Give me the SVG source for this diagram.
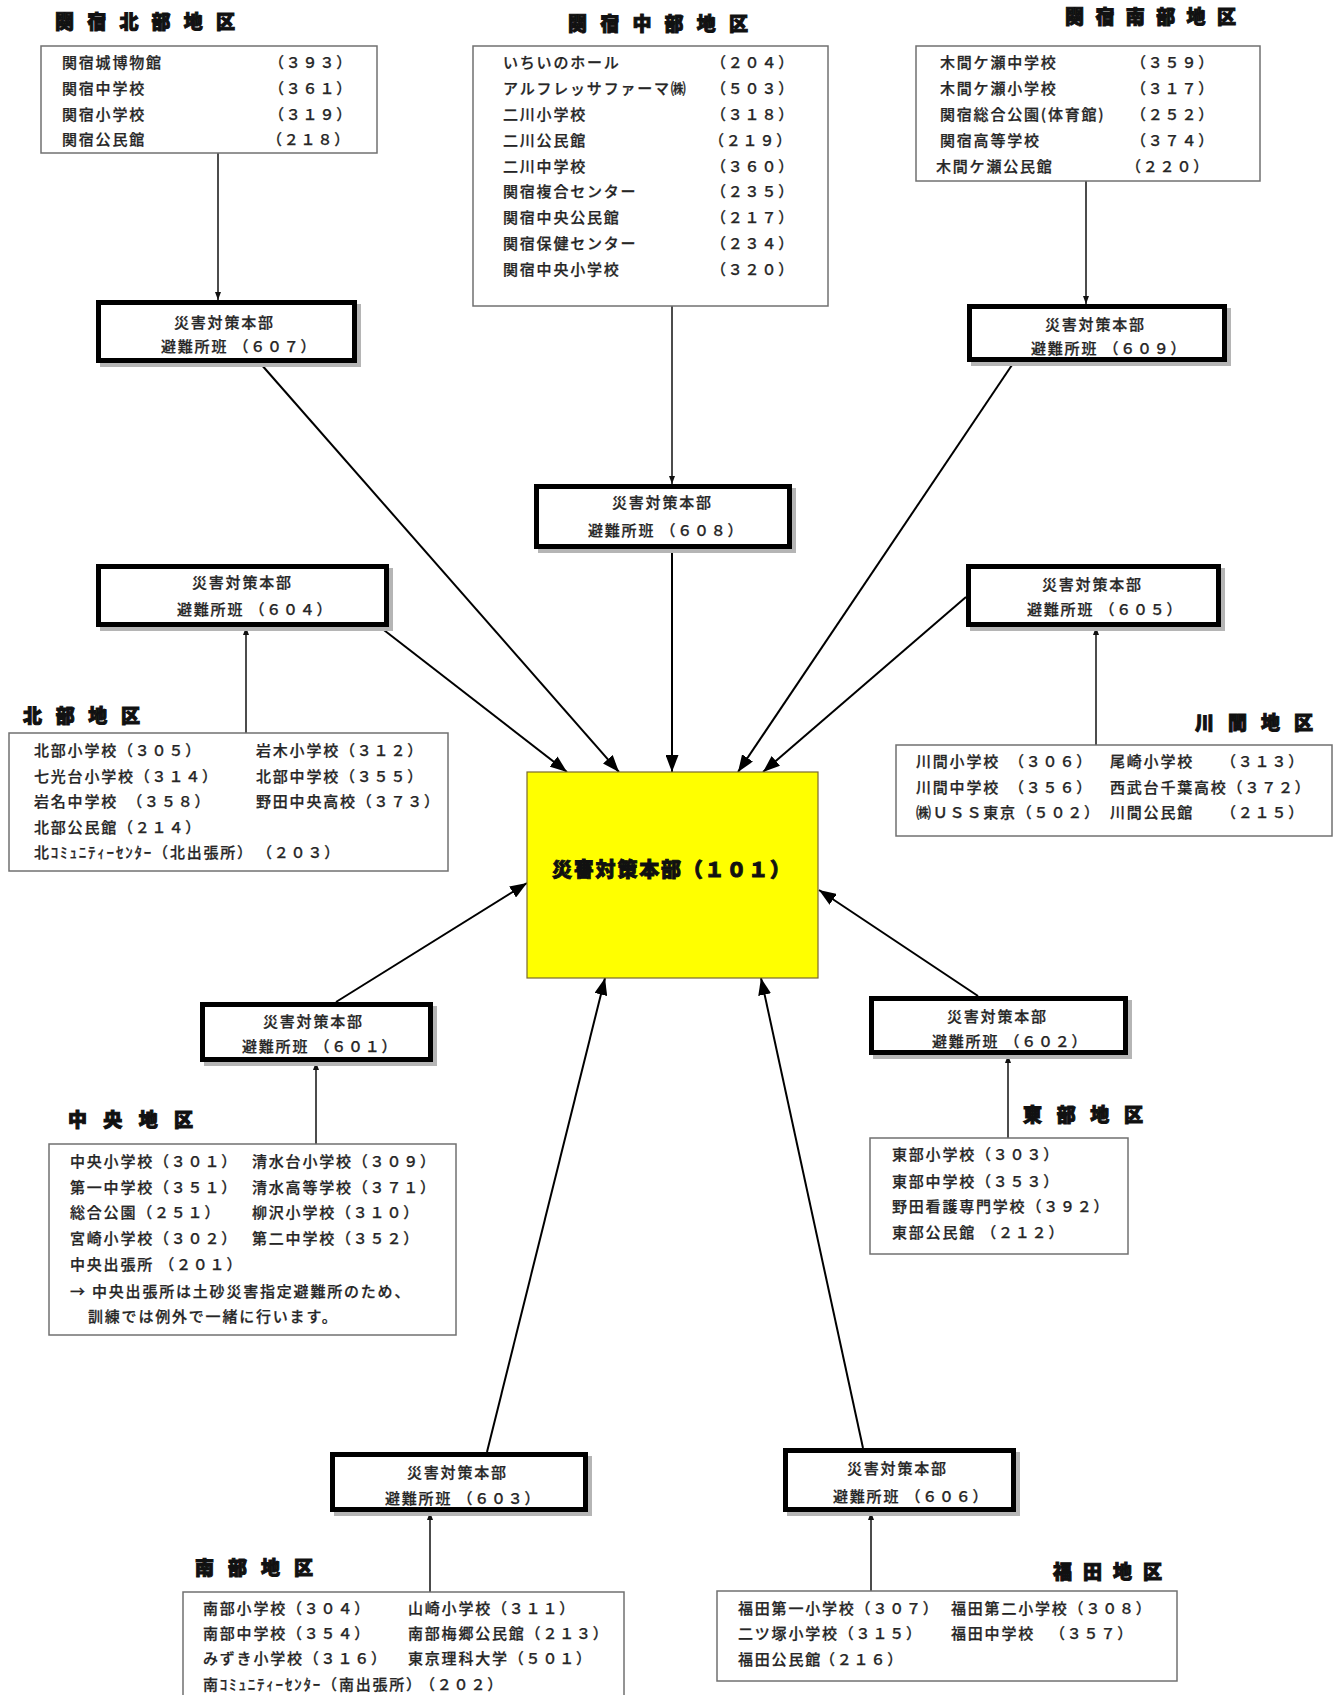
<svg xmlns="http://www.w3.org/2000/svg" width="1337" height="1695" viewBox="0 0 1337 1695">
<style>
text{font-family:"Noto Sans CJK JP","Noto Sans CJK SC",sans-serif;}
.t{font-size:15px;fill:#262626;letter-spacing:1.8px;font-weight:500;stroke:#262626;stroke-width:0.25;}
.h{font-size:19px;font-weight:900;fill:#111;stroke:#111;stroke-width:1;}
.d{fill:#fff;stroke:#707070;stroke-width:1.5;}
.hq{fill:#fff;stroke:#000;stroke-width:5;}
.sh{fill:#b5b5b5;}
.c{stroke:#111;stroke-width:1.5;fill:none;marker-end:url(#sa);}
.m{stroke:#000;stroke-width:2;fill:none;marker-end:url(#ba);}
</style>
<defs>
<marker id="sa" viewBox="0 0 8 6" refX="8" refY="3" markerWidth="8" markerHeight="6" markerUnits="userSpaceOnUse" orient="auto"><path d="M0,0 L8,3 L0,6 z" fill="#111"/></marker>
<marker id="ba" viewBox="0 0 17 13" refX="17" refY="6.5" markerWidth="17" markerHeight="13" markerUnits="userSpaceOnUse" orient="auto"><path d="M0,0 L17,6.5 L0,13 z" fill="#000"/></marker>
</defs>
<rect width="1337" height="1695" fill="#fff"/>

<g id="connectors">
<line class="c" x1="218" y1="153" x2="218" y2="300"/>
<line class="c" x1="672" y1="306" x2="672" y2="484"/>
<line class="c" x1="1086" y1="181" x2="1086" y2="304"/>
<line class="c" x1="246" y1="733" x2="246" y2="627"/>
<line class="c" x1="1096" y1="745" x2="1096" y2="627"/>
<line class="c" x1="316" y1="1144" x2="316" y2="1062"/>
<line class="c" x1="1008" y1="1138" x2="1008" y2="1055"/>
<line class="c" x1="430" y1="1592" x2="430" y2="1512"/>
<line class="c" x1="871" y1="1591" x2="871" y2="1512"/>
<line class="m" x1="260" y1="363" x2="619" y2="772"/>
<line class="m" x1="380" y1="627" x2="567" y2="772"/>
<line class="m" x1="672" y1="549" x2="672" y2="772"/>
<line class="m" x1="1014" y1="362" x2="738" y2="772"/>
<line class="m" x1="966" y1="597" x2="763" y2="772"/>
<line class="m" x1="336" y1="1002" x2="527" y2="883"/>
<line class="m" x1="978" y1="996" x2="819" y2="890"/>
<line class="m" x1="487" y1="1452" x2="605" y2="978"/>
<line class="m" x1="863" y1="1448" x2="761" y2="978"/>
</g>

<g id="hq101">
<rect x="527" y="772" width="291" height="206" fill="#ffff00" stroke="#7a6a30" stroke-width="1.2"/>
<text x="552" y="877" font-size="20" font-weight="900" fill="#111" stroke="#111" stroke-width="0.9" textLength="238" lengthAdjust="spacing">災害対策本部（１０１）</text>
</g>

<g id="sekiyado-north">
<text class="h" x="55" y="29" textLength="180" lengthAdjust="spacing">関宿北部地区</text>
<rect class="d" x="41" y="46" width="336" height="107"/>
<text class="t" x="62" y="68">関宿城博物館</text><text class="t" x="269" y="68">（３９３）</text>
<text class="t" x="62" y="94">関宿中学校</text><text class="t" x="269" y="94">（３６１）</text>
<text class="t" x="62" y="120">関宿小学校</text><text class="t" x="269" y="120">（３１９）</text>
<text class="t" x="62" y="145">関宿公民館</text><text class="t" x="267" y="145">（２１８）</text>
</g>

<g id="sekiyado-central">
<text class="h" x="568" y="31" textLength="180" lengthAdjust="spacing">関宿中部地区</text>
<rect class="d" x="473" y="46" width="355" height="260"/>
<text class="t" x="503" y="68">いちいのホール</text><text class="t" x="711" y="68">（２０４）</text>
<text class="t" x="503" y="94">アルフレッサファーマ㈱</text><text class="t" x="711" y="94">（５０３）</text>
<text class="t" x="503" y="120">二川小学校</text><text class="t" x="711" y="120">（３１８）</text>
<text class="t" x="503" y="146">二川公民館</text><text class="t" x="709" y="146">（２１９）</text>
<text class="t" x="503" y="172">二川中学校</text><text class="t" x="711" y="172">（３６０）</text>
<text class="t" x="503" y="197">関宿複合センター</text><text class="t" x="711" y="197">（２３５）</text>
<text class="t" x="503" y="223">関宿中央公民館</text><text class="t" x="711" y="223">（２１７）</text>
<text class="t" x="503" y="249">関宿保健センター</text><text class="t" x="711" y="249">（２３４）</text>
<text class="t" x="503" y="275">関宿中央小学校</text><text class="t" x="711" y="275">（３２０）</text>
</g>

<g id="sekiyado-south">
<text class="h" x="1065" y="24" textLength="171" lengthAdjust="spacing">関宿南部地区</text>
<rect class="d" x="916" y="46" width="344" height="135"/>
<text class="t" x="940" y="68">木間ケ瀬中学校</text><text class="t" x="1131" y="68">（３５９）</text>
<text class="t" x="940" y="94">木間ケ瀬小学校</text><text class="t" x="1131" y="94">（３１７）</text>
<text class="t" x="940" y="120">関宿総合公園(体育館)</text><text class="t" x="1131" y="120">（２５２）</text>
<text class="t" x="940" y="146">関宿高等学校</text><text class="t" x="1131" y="146">（３７４）</text>
<text class="t" x="936" y="172">木間ケ瀬公民館</text><text class="t" x="1126" y="172">（２２０）</text>
</g>

<g id="team607">
<rect class="sh" x="100" y="304" width="261" height="63"/>
<rect class="hq" x="98.5" y="302.5" width="256" height="58"/>
<text class="t" x="174" y="328">災害対策本部</text>
<text class="t" x="161" y="352">避難所班 （６０７）</text>
</g>

<g id="team608">
<rect class="sh" x="538" y="488" width="258" height="65"/>
<rect class="hq" x="536.5" y="486.5" width="253" height="60"/>
<text class="t" x="612" y="508">災害対策本部</text>
<text class="t" x="588" y="536">避難所班 （６０８）</text>
</g>

<g id="team609">
<rect class="sh" x="971" y="308" width="260" height="58"/>
<rect class="hq" x="969.5" y="306.5" width="255" height="53"/>
<text class="t" x="1045" y="330">災害対策本部</text>
<text class="t" x="1031" y="354">避難所班 （６０９）</text>
</g>

<g id="team604">
<rect class="sh" x="100" y="568" width="293" height="63"/>
<rect class="hq" x="98.5" y="566.5" width="288" height="58"/>
<text class="t" x="192" y="588">災害対策本部</text>
<text class="t" x="177" y="615">避難所班 （６０４）</text>
</g>

<g id="team605">
<rect class="sh" x="970" y="568" width="255" height="63"/>
<rect class="hq" x="968.5" y="566.5" width="250" height="58"/>
<text class="t" x="1042" y="590">災害対策本部</text>
<text class="t" x="1027" y="615">避難所班 （６０５）</text>
</g>

<g id="north">
<text class="h" x="23" y="723" textLength="117" lengthAdjust="spacing">北部地区</text>
<rect class="d" x="9" y="733" width="439" height="138"/>
<text class="t" x="34" y="756">北部小学校（３０５）</text><text class="t" x="256" y="756">岩木小学校（３１２）</text>
<text class="t" x="34" y="782">七光台小学校（３１４）</text><text class="t" x="256" y="782">北部中学校（３５５）</text>
<text class="t" x="34" y="807">岩名中学校　（３５８）</text><text class="t" x="256" y="807">野田中央高校（３７３）</text>
<text class="t" x="34" y="833">北部公民館（２１４）</text>
<text class="t" x="34" y="858">北ｺﾐｭﾆﾃｨｰｾﾝﾀｰ（北出張所）</text><text class="t" x="257" y="858">（２０３）</text>
</g>

<g id="kawama">
<text class="h" x="1195" y="730" textLength="118" lengthAdjust="spacing">川間地区</text>
<rect class="d" x="896" y="745" width="436" height="91"/>
<text class="t" x="916" y="767">川間小学校</text><text class="t" x="1009" y="767">（３０６）</text><text class="t" x="1110" y="767">尾崎小学校</text><text class="t" x="1221" y="767">（３１３）</text>
<text class="t" x="916" y="793">川間中学校</text><text class="t" x="1009" y="793">（３５６）</text><text class="t" x="1110" y="793">西武台千葉高校（３７２）</text>
<text class="t" x="916" y="818">㈱ＵＳＳ東京（５０２）</text><text class="t" x="1110" y="818">川間公民館</text><text class="t" x="1221" y="818">（２１５）</text>
</g>

<g id="team601">
<rect class="sh" x="204" y="1006" width="233" height="60"/>
<rect class="hq" x="202.5" y="1004.5" width="228" height="55"/>
<text class="t" x="263" y="1027">災害対策本部</text>
<text class="t" x="242" y="1052">避難所班 （６０１）</text>
</g>

<g id="team602">
<rect class="sh" x="873" y="1000" width="259" height="59"/>
<rect class="hq" x="871.5" y="998.5" width="254" height="54"/>
<text class="t" x="947" y="1022">災害対策本部</text>
<text class="t" x="932" y="1047">避難所班 （６０２）</text>
</g>

<g id="chuo">
<text class="h" x="68" y="1127" textLength="125" lengthAdjust="spacing">中央地区</text>
<rect class="d" x="49" y="1144" width="407" height="191"/>
<text class="t" x="70" y="1167">中央小学校（３０１）</text><text class="t" x="252" y="1167">清水台小学校（３０９）</text>
<text class="t" x="70" y="1193">第一中学校（３５１）</text><text class="t" x="252" y="1193">清水高等学校（３７１）</text>
<text class="t" x="70" y="1218">総合公園（２５１）</text><text class="t" x="252" y="1218">柳沢小学校（３１０）</text>
<text class="t" x="70" y="1244">宮崎小学校（３０２）</text><text class="t" x="252" y="1244">第二中学校（３５２）</text>
<text class="t" x="70" y="1270">中央出張所 （２０１）</text>
<text class="t" x="70" y="1297">→ 中央出張所は土砂災害指定避難所のため、</text>
<text class="t" x="88" y="1322">訓練では例外で一緒に行います。</text>
</g>

<g id="east">
<text class="h" x="1023" y="1122" textLength="120" lengthAdjust="spacing">東部地区</text>
<rect class="d" x="870" y="1138" width="258" height="116"/>
<text class="t" x="892" y="1160">東部小学校（３０３）</text>
<text class="t" x="892" y="1187">東部中学校（３５３）</text>
<text class="t" x="892" y="1212">野田看護専門学校（３９２）</text>
<text class="t" x="892" y="1238">東部公民館 （２１２）</text>
</g>

<g id="team603">
<rect class="sh" x="334" y="1456" width="258" height="60"/>
<rect class="hq" x="332.5" y="1454.5" width="253" height="55"/>
<text class="t" x="407" y="1478">災害対策本部</text>
<text class="t" x="385" y="1504">避難所班 （６０３）</text>
</g>

<g id="team606">
<rect class="sh" x="787" y="1452" width="233" height="64"/>
<rect class="hq" x="785.5" y="1450.5" width="228" height="59"/>
<text class="t" x="847" y="1474">災害対策本部</text>
<text class="t" x="833" y="1502">避難所班 （６０６）</text>
</g>

<g id="south">
<text class="h" x="195" y="1575" textLength="118" lengthAdjust="spacing">南部地区</text>
<rect class="d" x="183" y="1592" width="441" height="110"/>
<text class="t" x="203" y="1614">南部小学校（３０４）</text><text class="t" x="408" y="1614">山崎小学校（３１１）</text>
<text class="t" x="203" y="1639">南部中学校（３５４）</text><text class="t" x="408" y="1639">南部梅郷公民館（２１３）</text>
<text class="t" x="203" y="1664">みずき小学校（３１６）</text><text class="t" x="408" y="1664">東京理科大学（５０１）</text>
<text class="t" x="203" y="1690">南ｺﾐｭﾆﾃｨｰｾﾝﾀｰ（南出張所）</text><text class="t" x="420" y="1690">（２０２）</text>
</g>

<g id="fukuda">
<text class="h" x="1053" y="1579" textLength="109" lengthAdjust="spacing">福田地区</text>
<rect class="d" x="717" y="1591" width="460" height="90"/>
<text class="t" x="738" y="1614">福田第一小学校（３０７）</text><text class="t" x="951" y="1614">福田第二小学校（３０８）</text>
<text class="t" x="738" y="1639">二ツ塚小学校（３１５）</text><text class="t" x="951" y="1639">福田中学校</text><text class="t" x="1050" y="1639">（３５７）</text>
<text class="t" x="738" y="1665">福田公民館</text><text class="t" x="820" y="1665">（２１６）</text>
</g>
</svg>
